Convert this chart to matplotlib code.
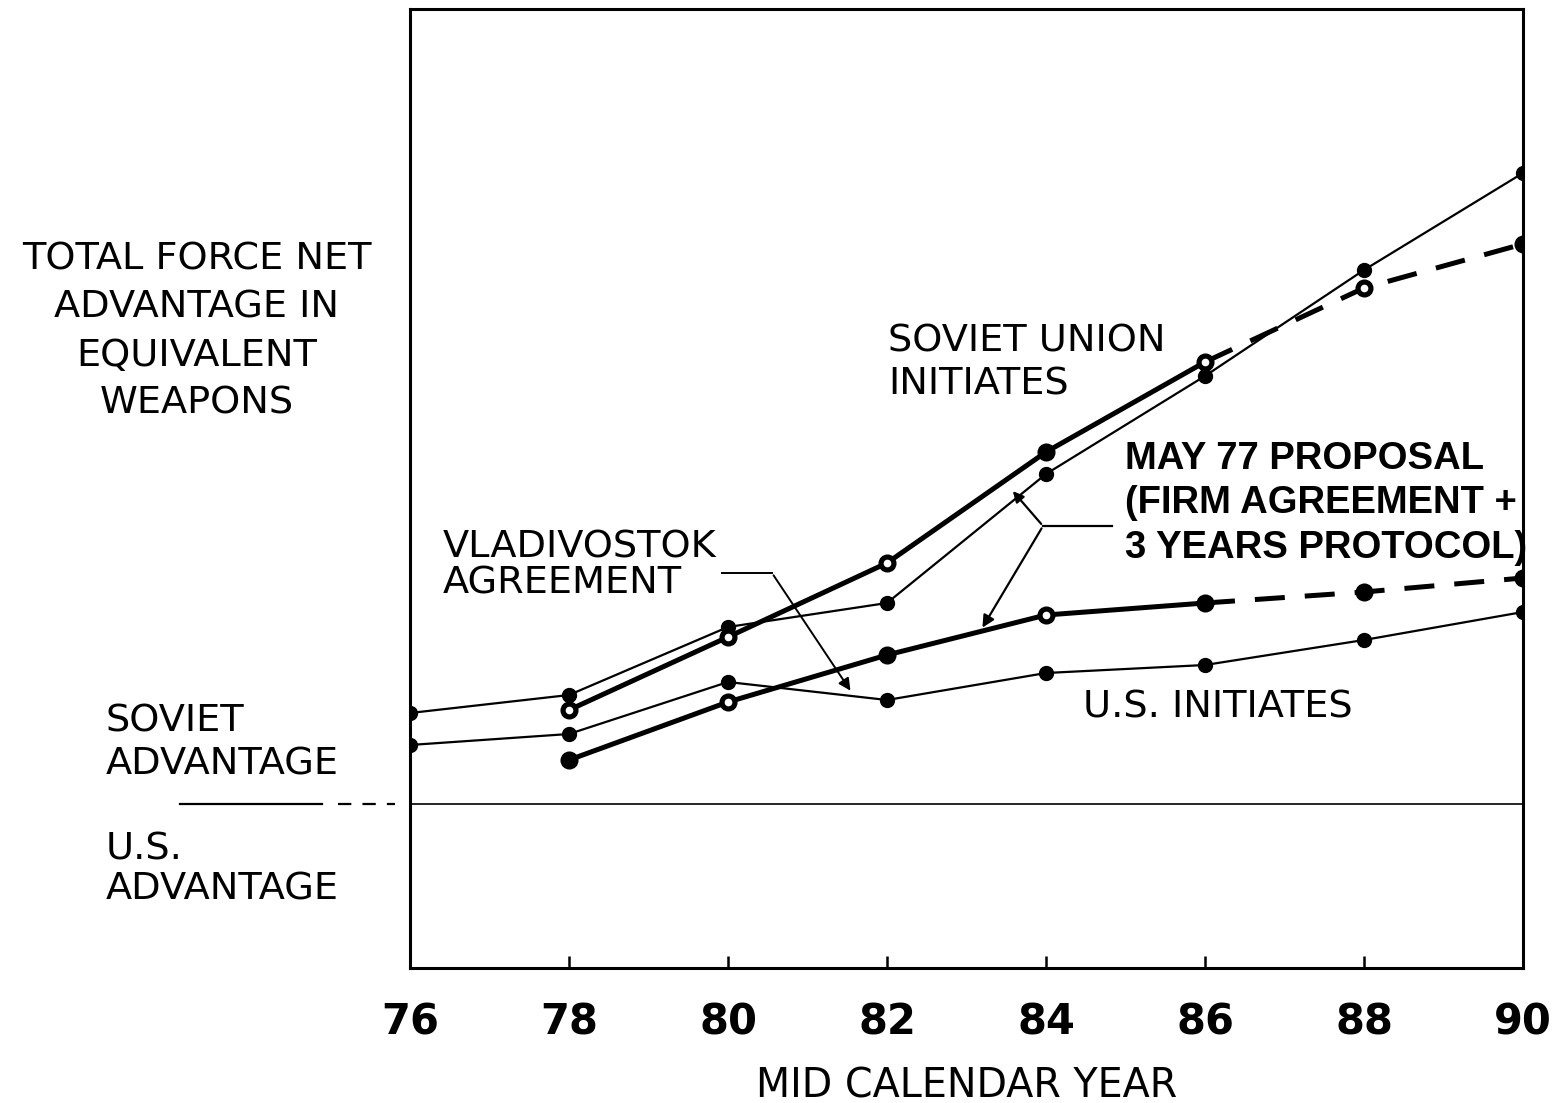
import numpy as np
import matplotlib
matplotlib.use("Agg")
import matplotlib.pyplot as plt

# Data (y in arbitrary "equivalent weapons" units, 0 = parity)
years_vlad = [76, 78, 80, 82, 84, 86, 88, 90]
years_may = [78, 80, 82, 84, 86, 88, 90]

soviet_vlad = [9.1, 10.9, 17.7, 20.1, 33.0, 42.8, 53.4, 63.1]
soviet_may = [9.4, 16.7, 24.1, 35.2, 44.2, 51.6, 56.0]
us_vlad = [5.9, 7.0, 12.2, 10.4, 13.1, 13.9, 16.4, 19.2]
us_may = [4.4, 10.2, 14.9, 18.9, 20.1, 21.2, 22.6]

xticks = [76, 78, 80, 82, 84, 86, 88, 90]

W, H = 1555, 1103
fig = plt.figure(figsize=(W / 100, H / 100), dpi=100)
ax = fig.add_axes([410 / W, 1 - 968 / H, (1523 - 410) / W, (968 - 9) / H])
ax.set_xlim(76, 90)
ax.set_ylim(-16.4, 79.5)


def fx(px):
    return px / W


def fy(py):
    return 1 - py / H


def dx(px):
    return 76 + (px - 410) / 79.5


def dy(py):
    return (804 - py) / 10


# zero line (parity)
ax.axhline(0, color="black", lw=1.2)

thin = dict(color="black", lw=1.6, marker="o", ms=10, zorder=3)
ax.plot(years_vlad, soviet_vlad, **thin)
ax.plot(years_vlad, us_vlad, **thin)


def thick_line(xs, ys, open_idx):
    xs = np.array(xs)
    ys = np.array(ys)
    solid = xs <= 86
    dashed = xs >= 86
    ax.plot(xs[solid], ys[solid], color="black", lw=3.6, zorder=4)
    ax.plot(xs[dashed], ys[dashed], color="black", lw=3.6, dashes=(6, 4), zorder=4)
    ax.plot(xs, ys, ls="none", marker="o", ms=12, color="black", zorder=5)
    ax.plot(xs[open_idx], ys[open_idx], ls="none", marker="o", ms=4.5,
            color="white", zorder=6)


thick_line(years_may, soviet_may, [0, 1, 2, 4, 5])
thick_line(years_may, us_may, [1, 3])

# axes styling
for s in ax.spines.values():
    s.set_linewidth(2.2)
ax.set_xticks(xticks)
ax.set_xticklabels([str(t) for t in xticks], fontsize=30, fontweight="bold",
                   family="DejaVu Sans")
ax.tick_params(axis="x", direction="in", length=9, width=1.8, pad=24)
ax.set_yticks([])

# labels inside the plot
lab = dict(fontsize=27.5, family="DejaVu Sans", color="black")
ax.text(dx(888), dy(324), "SOVIET UNION\nINITIATES", ha="left", va="top",
        linespacing=1.22, **lab)
ax.text(dx(443), dy(529), "VLADIVOSTOK\nAGREEMENT", ha="left", va="top",
        linespacing=1.0, **lab)
ax.text(dx(1083), dy(708), "U.S. INITIATES", ha="left", va="center", **lab)
ax.text(dx(1125), dy(441), "MAY 77 PROPOSAL\n(FIRM AGREEMENT +\n3 YEARS PROTOCOL)",
        ha="left", va="top", fontsize=27.5, fontweight="bold",
        family="Liberation Sans", linespacing=1.3)

# Vladivostok leader
ax.plot([dx(722), dx(772)], [dy(573), dy(573)], color="black", lw=1.4)
ax.annotate("", xy=(dx(852), dy(693)), xytext=(dx(772), dy(573)),
            arrowprops=dict(arrowstyle="-|>", color="black", lw=1.4,
                            mutation_scale=18))

# May 77 leaders
bx, by = dx(1043), dy(526)
ax.plot([bx, dx(1112)], [by, by], color="black", lw=1.6)
ax.annotate("", xy=(dx(1011), dy(489)), xytext=(bx, by),
            arrowprops=dict(arrowstyle="-|>", color="black", lw=1.6,
                            mutation_scale=16))
ax.annotate("", xy=(dx(981), dy(630)), xytext=(bx, by),
            arrowprops=dict(arrowstyle="-|>", color="black", lw=1.6,
                            mutation_scale=18))

# labels to the left of the axes
fig.text(fx(197), fy(242), "TOTAL FORCE NET\nADVANTAGE IN\nEQUIVALENT\nWEAPONS",
         ha="center", va="top", multialignment="center", linespacing=1.42, **lab)
fig.text(fx(106), fy(703), "SOVIET\nADVANTAGE", ha="left", va="top",
         linespacing=1.28, **lab)
fig.text(fx(106), fy(832), "U.S.\nADVANTAGE", ha="left", va="top",
         linespacing=1.14, **lab)
ax.plot([dx(180), dx(322)], [0, 0], color="black", lw=1.6, clip_on=False)
ax.plot([dx(338), dx(395)], [0, 0], color="black", lw=1.6, dashes=(6, 5),
        clip_on=False)

fig.text(fx(967), fy(1086), "MID CALENDAR YEAR", ha="center", va="center",
         fontsize=28.5, family="DejaVu Sans")

fig.savefig("out.png", dpi=100, facecolor="white")
